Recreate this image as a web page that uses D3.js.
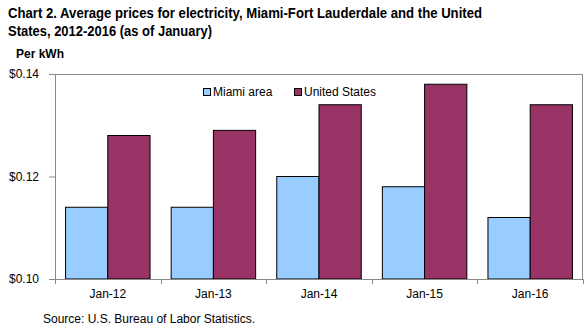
<!DOCTYPE html>
<html>
<head>
<meta charset="utf-8">
<script src="https://cdn.jsdelivr.net/npm/d3@7"></script>
<style>
  body { margin: 0; background: #fff; }
  svg text { font-family: "Liberation Sans", Arial, sans-serif; }
</style>
</head>
<body>
<div id="chart"></div>
<script>
// Chart data
var categories = ["Jan-12", "Jan-13", "Jan-14", "Jan-15", "Jan-16"];
var seriesNames = ["Miami area", "United States"];
var miami = [0.114, 0.114, 0.120, 0.118, 0.112];
var us = [0.128, 0.129, 0.134, 0.138, 0.134];
var yTicks = [0.10, 0.12, 0.14];
var colors = ["#99ccff", "#993366"];

var width = 588, height = 331;
var margin = {top: 74, right: 5, bottom: 52, left: 55};
var innerW = width - margin.left - margin.right;
var innerH = height - margin.top - margin.bottom;

var svg = d3.select("#chart")
    .append("svg")
    .attr("width", width)
    .attr("height", height);

// Title (narrow bold face, squeezed to the original width)
svg.append("text")
    .attr("x", 8).attr("y", 18)
    .attr("textLength", 474).attr("lengthAdjust", "spacingAndGlyphs")
    .style("font-size", "15px").style("font-weight", "bold")
    .text("Chart 2. Average prices for electricity, Miami-Fort Lauderdale and the United");
svg.append("text")
    .attr("x", 8).attr("y", 36)
    .attr("textLength", 204).attr("lengthAdjust", "spacingAndGlyphs")
    .style("font-size", "15px").style("font-weight", "bold")
    .text("States, 2012-2016 (as of January)");

svg.append("text")
    .attr("x", 16).attr("y", 58)
    .style("font-size", "12px").style("font-weight", "bold")
    .text("Per kWh");

var g = svg.append("g")
    .attr("transform", "translate(" + margin.left + "," + margin.top + ")");

// Scales
var x = d3.scaleBand()
    .domain(categories)
    .range([0, innerW])
    .paddingInner(0.2)
    .paddingOuter(0.1);

var x1 = d3.scaleBand()
    .domain(seriesNames)
    .range([0, x.bandwidth()]);

var y = d3.scaleLinear()
    .domain([0.10, 0.14])
    .range([innerH, 0]);

// Plot frame (top and right)
g.append("path")
    .attr("fill", "none")
    .attr("stroke", "#888")
    .attr("d", "M0,0.5H" + (innerW - 0.5) + "V" + innerH);

// Bars
var rows = categories.map(function(c, i) { return {cat: c, vals: [miami[i], us[i]]}; });

g.selectAll(".grp")
    .data(rows)
    .enter().append("g")
    .attr("transform", function(d) { return "translate(" + x(d.cat) + ",0)"; })
    .selectAll("rect")
    .data(function(d) { return d.vals.map(function(v, j) { return {name: seriesNames[j], v: v, j: j}; }); })
    .enter().append("rect")
    .attr("x", function(d) { return x1(d.name); })
    .attr("y", function(d) { return y(d.v); })
    .attr("width", x1.bandwidth())
    .attr("height", function(d) { return innerH - y(d.v); })
    .attr("fill", function(d) { return colors[d.j]; })
    .attr("stroke", "#000")
    .attr("stroke-width", 1);

// Y axis
var yAxis = g.append("g")
    .call(d3.axisLeft(y).tickValues(yTicks).tickSize(6).tickPadding(10)
        .tickFormat(function(d) { return "$" + d3.format(".2f")(d); }));
yAxis.select(".domain").attr("stroke", "#888");
yAxis.selectAll(".tick line").attr("stroke", "#888");
yAxis.selectAll("text").style("font-size", "12px").style("font-family", "Liberation Sans, Arial, sans-serif").attr("fill", "#000");

// X axis
var xAxis = g.append("g")
    .attr("transform", "translate(0," + innerH + ")")
    .call(d3.axisBottom(x).tickSize(0).tickPadding(10));
xAxis.select(".domain").attr("stroke", "#888");
xAxis.selectAll("text").style("font-size", "12px").style("font-family", "Liberation Sans, Arial, sans-serif").attr("fill", "#000");

// category boundary ticks
var step = x.step();
g.append("g").selectAll("line")
    .data(d3.range(categories.length + 1))
    .enter().append("line")
    .attr("x1", function(i) { return Math.round(i * step) + 0.5; })
    .attr("x2", function(i) { return Math.round(i * step) + 0.5; })
    .attr("y1", innerH)
    .attr("y2", innerH + 5)
    .attr("stroke", "#888");

// Legend
var legend = g.append("g").attr("transform", "translate(148,14)");
var legX = [0, 91];
seriesNames.forEach(function(n, i) {
    legend.append("rect")
        .attr("x", legX[i] + 0.5).attr("y", 0.5)
        .attr("width", 7).attr("height", 7)
        .attr("fill", colors[i]).attr("stroke", "#000");
    legend.append("text")
        .attr("x", legX[i] + 10).attr("y", 8)
        .style("font-size", "12px")
        .text(n);
});

// Source
svg.append("text")
    .attr("x", 43).attr("y", 323)
    .style("font-size", "12px")
    .text("Source: U.S. Bureau of Labor Statistics.");
</script>
</body>
</html>
